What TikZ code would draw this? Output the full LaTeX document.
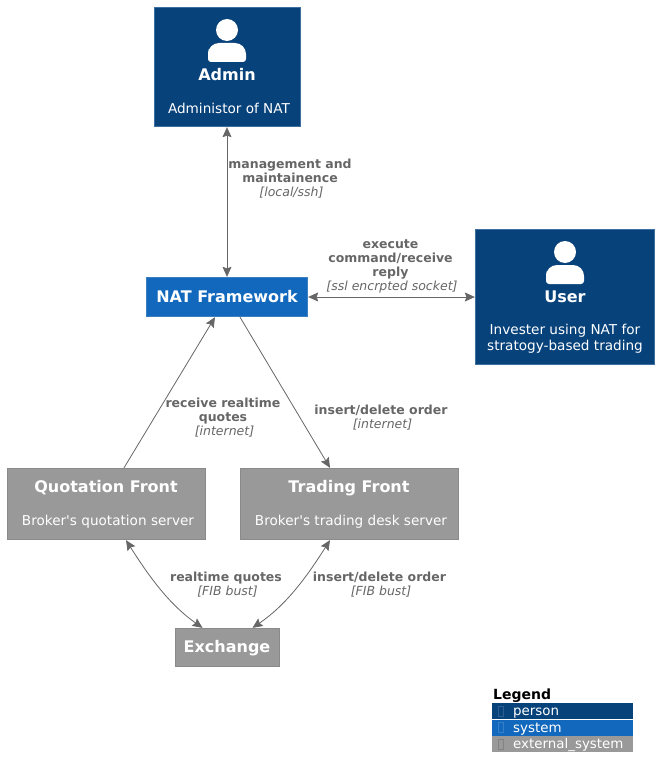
\documentclass[tikz,border=0pt]{standalone}
\usepackage{fontspec}
\setmainfont{DejaVu Sans}
\usetikzlibrary{arrows.meta,positioning}
\definecolor{personblue}{HTML}{08427B}
\definecolor{personedge}{HTML}{3C6E9F}
\definecolor{systemblue}{HTML}{1168BD}
\definecolor{systemedge}{HTML}{3C7FC0}
\definecolor{extgray}{HTML}{999999}
\definecolor{extedge}{HTML}{8A8A8A}
\definecolor{linkgray}{HTML}{666666}
\tikzset{
  box/.style={draw, line width=0.8pt, inner sep=0pt},
  person/.style={box, fill=personblue, draw=personedge},
  system/.style={box, fill=systemblue, draw=systemedge},
  external/.style={box, fill=extgray, draw=extedge},
  boxtitle/.style={text=white, inner sep=0pt, font=\bfseries\fontsize{16}{18}\selectfont},
  boxnote/.style={text=white, inner sep=0pt, align=center, font=\fontsize{13.6}{16}\selectfont},
  link/.style={linkgray, line width=0.8pt, {Stealth[length=10pt,width=9pt,inset=1.5pt]}-{Stealth[length=10pt,width=9pt,inset=1.5pt]}},
  oneway/.style={linkgray, line width=0.8pt, -{Stealth[length=10pt,width=9pt,inset=1.5pt]}},
  linklabel/.style={text=linkgray, inner sep=0pt, align=center, font=\bfseries\fontsize{12.5}{14}\selectfont},
  legendrow/.style={minimum width=141pt, minimum height=16pt, inner sep=0pt, text=white, anchor=north west, text width=141pt, text height=11pt, text depth=2pt, align=left, font=\fontsize{13.4}{14}\selectfont},
  legendmark/.style={draw, line width=0.5pt, inner sep=0pt, minimum width=5pt, minimum height=10pt},
  personicon/.pic={
    \fill[white] (0,0) circle (11);
    \fill[white, rounded corners=3pt] (-19,32) -- (-19,22)
      [rounded corners=11pt] -- (-19,13) -- (19,13)
      [rounded corners=3pt] -- (19,32) -- cycle;
  },
}
\newcommand{\tagtext}[1]{{\mdseries\itshape\hspace*{3pt}#1}}
\begin{document}
\begin{tikzpicture}[x=1pt,y=-1pt]
  \useasboundingbox (0,0) rectangle (659,773);
  % boxes
  \node[person, minimum width=146.5pt, minimum height=119.5pt] (admin)     at (227.5,67)  {};
  \node[person, minimum width=179.5pt, minimum height=135.5pt] (user)      at (565,297)   {};
  \node[system, minimum width=161.5pt, minimum height=39.5pt]  (nat)       at (227,297)   {};
  \node[external, minimum width=198.5pt, minimum height=71.5pt] (quotation) at (106.5,504) {};
  \node[external, minimum width=218.5pt, minimum height=71.5pt] (trading)   at (349.5,504) {};
  \node[external, minimum width=104.5pt, minimum height=38.5pt] (exchange)  at (227.5,647.5) {};
  % person icons
  \pic at (227,30) {personicon};
  \pic at (565,252) {personicon};
  % box texts
  \node[boxtitle] (admintitle) at (227,75)  {Admin};
  \node[boxnote]  (adminnote)  at (229,108.5) {Administor of NAT};
  \node[boxtitle] (usertitle)  at (565,297) {User};
  \node[boxnote]  (usernote)   at (565,338.5) {Invester using NAT for\\stratogy-based trading};
  \node[boxtitle] (nattitle)   at (227,297) {NAT Framework};
  \node[boxtitle] (quotationtitle) at (106,488) {Quotation Front};
  \node[boxnote]  (quotationnote)  at (108,521.5) {Broker\textquotesingle s quotation server};
  \node[boxtitle] (tradingtitle)   at (349,488) {Trading Front};
  \node[boxnote]  (tradingnote)    at (351,521.5) {Broker\textquotesingle s trading desk server};
  \node[boxtitle] (exchangetitle)  at (227,648) {Exchange};
  % connectors
  \draw[link] (nat.north |- admin.south) -- (nat.north);
  \draw[link] (nat) -- (user);
  \draw[oneway] ([xshift=17.5pt]quotation.north) -- ([xshift=-12pt]nat.south);
  \draw[oneway] ([xshift=13pt]nat.south) -- ([xshift=-19.5pt]trading.north);
  \draw[link] ([xshift=19.5pt]quotation.south) .. controls (150,578) and (170,605) .. ([xshift=-25pt]exchange.north);
  \draw[link] ([xshift=-19.5pt]trading.south) .. controls (306,578) and (286,605) .. ([xshift=25pt]exchange.north);
  % connector labels
  \node[linklabel] (adminlabel) at (290,178.5) {management and\\maintainence\\\tagtext{[local/ssh]}};
  \node[linklabel] (userlabel)  at (390.5,266.5) {execute\\command/receive\\reply\\\tagtext{[ssl encrpted socket]}};
  \node[linklabel] (quotelabel) at (223,417.5) {receive realtime\\quotes\\\tagtext{[internet]}};
  \node[linklabel] (orderlabel) at (381,417.5) {insert/delete order\\\tagtext{[internet]}};
  \node[linklabel] (feedlabel)  at (226,584.5) {realtime quotes\\\tagtext{[FIB bust]}};
  \node[linklabel] (fixlabel)   at (379.5,584.5) {insert/delete order\\\tagtext{[FIB bust]}};
  % legend
  \node[inner sep=0pt, anchor=west, font=\bfseries\fontsize{14}{14}\selectfont] (legend) at (493,696) {Legend};
  \node[legendrow, fill=personblue] (rowperson) at (492,703) {\hspace*{21pt}person};
  \node[legendrow, fill=systemblue, below=0pt of rowperson] (rowsystem) {\hspace*{21pt}system};
  \node[legendrow, fill=extgray, below=0pt of rowsystem] (rowexternal) {\hspace*{21pt}external\_system};
  \node[legendmark, draw=personblue!85!white] (markperson) at ([xshift=8.5pt]rowperson.west) {};
  \node[legendmark, draw=systemblue!85!white] (marksystem) at ([xshift=8.5pt]rowsystem.west) {};
  \node[legendmark, draw=extgray!85!black] (markexternal) at ([xshift=8.5pt]rowexternal.west) {};
\end{tikzpicture}
\end{document}
